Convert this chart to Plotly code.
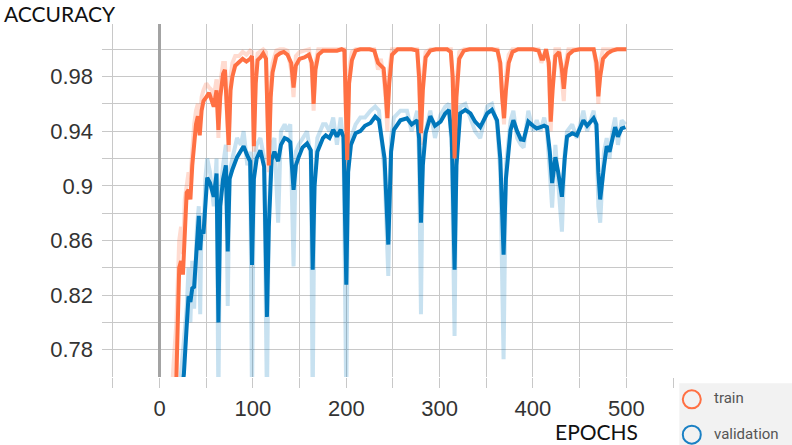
import plotly.graph_objects as go

# ---------------- data ----------------
train_epochs = [0, 10, 15, 18, 21, 23, 25, 27, 29, 31, 33, 35, 37, 39, 41, 43, 45, 47, 50, 53, 56, 58, 61, 63, 65, 68, 70, 72, 74, 76, 78, 81, 85, 89, 93, 97, 99, 101, 103, 105, 108, 111, 114, 117, 119, 121, 125, 129, 133, 137, 141, 143.5, 146, 150, 155, 160, 163, 165, 167, 170, 175, 180, 185, 190, 195, 198, 201, 203, 206, 210, 215, 220, 225, 230, 234, 237, 240, 242, 244, 246, 249, 255, 262, 270, 276, 278, 280, 282, 285, 290, 296, 302, 308, 312, 314, 316, 318, 321, 326, 332, 340, 348, 356, 362, 365, 367, 369, 371, 374, 378, 384, 392, 400, 406, 409, 411, 414, 417, 419, 421, 424, 428, 431, 433, 435, 438, 443, 450, 458, 465, 468, 470, 472, 475, 480, 485, 490, 495, 500]
train_smooth = [0.55, 0.70, 0.745, 0.76, 0.84, 0.845, 0.835, 0.875, 0.895, 0.897, 0.89, 0.915, 0.93, 0.945, 0.951, 0.937, 0.955, 0.962, 0.965, 0.968, 0.962, 0.958, 0.970, 0.941, 0.965, 0.982, 0.985, 0.96, 0.930, 0.97, 0.980, 0.988, 0.991, 0.993, 0.991, 0.993, 0.995, 0.929, 0.975, 0.992, 0.994, 0.997, 0.993, 0.915, 0.965, 0.983, 0.995, 0.997, 0.998, 0.996, 0.99, 0.972, 0.988, 0.993, 0.994, 0.996, 0.99, 0.960, 0.985, 0.996, 0.999, 0.999, 0.9995, 0.999, 1.0, 0.999, 0.919, 0.975, 0.992, 0.999, 1.0, 1.0, 1.0, 0.999, 0.99, 0.988, 0.986, 0.97, 0.9495, 0.975, 0.996, 1.0, 1.0, 1.0, 0.999, 0.98, 0.9385, 0.97, 0.994, 0.999, 1.0, 1.0, 1.0, 0.998, 0.98, 0.920, 0.965, 0.993, 0.999, 1.0, 1.0, 1.0, 1.0, 0.999, 0.99, 0.965, 0.9495, 0.97, 0.99, 0.998, 1.0, 1.0, 1.0, 0.999, 0.993, 0.993, 1.0, 0.99, 0.947, 0.97, 0.995, 0.998, 0.985, 0.971, 0.985, 0.996, 0.999, 1.0, 1.0, 1.0, 0.99, 0.9655, 0.98, 0.993, 0.997, 0.999, 1.0, 1.0, 1.0]
train_raw = [0.55, 0.71, 0.77, 0.80, 0.86, 0.87, 0.85, 0.89, 0.90, 0.91, 0.905, 0.93, 0.945, 0.955, 0.96, 0.945, 0.965, 0.97, 0.975, 0.972, 0.97, 0.965, 0.978, 0.935, 0.975, 0.99, 0.99, 0.955, 0.925, 0.98, 0.99, 0.995, 0.995, 0.998, 0.996, 0.999, 0.998, 0.925, 0.985, 0.997, 0.999, 1.0, 0.998, 0.91, 0.975, 0.99, 0.999, 1.0, 1.0, 0.999, 0.985, 0.965, 0.995, 0.998, 0.999, 1.0, 0.985, 0.955, 0.99, 1.0, 1.0, 1.0, 1.0, 1.0, 1.0, 1.0, 0.91, 0.985, 0.998, 1.0, 1.0, 1.0, 1.0, 1.0, 0.985, 0.993, 0.98, 0.965, 0.94, 0.985, 1.0, 1.0, 1.0, 1.0, 1.0, 0.975, 0.93, 0.98, 0.998, 1.0, 1.0, 1.0, 1.0, 1.0, 0.975, 0.915, 0.975, 0.998, 1.0, 1.0, 1.0, 1.0, 1.0, 1.0, 0.985, 0.96, 0.945, 0.98, 0.996, 1.0, 1.0, 1.0, 1.0, 1.0, 0.99, 0.995, 1.0, 0.985, 0.94, 0.975, 1.0, 1.0, 0.98, 0.962, 0.99, 1.0, 1.0, 1.0, 1.0, 1.0, 0.985, 0.96, 0.99, 1.0, 1.0, 1.0, 1.0, 1.0, 1.0]

val_epochs = [0, 10, 20, 24, 26, 29, 31, 33, 35, 37, 40, 42, 43.5, 45, 47, 49, 51, 54, 58, 61, 63, 65, 68, 71, 73, 75, 78, 83, 87, 90, 94, 97, 99, 101, 104, 108, 112, 115, 117, 120, 123, 127, 130, 134, 137, 140, 143.5, 146, 149, 153, 158, 162, 164, 166, 169, 172, 175, 178, 182, 186, 190, 194, 197, 200, 202, 205, 210, 215, 220, 226, 231, 235, 238, 241, 245, 248, 251, 258, 265, 270, 276, 278, 280, 282, 285, 290, 295, 301, 306, 310, 313, 316, 318, 322, 327.5, 333, 338, 343.5, 351, 356, 361.5, 365, 368.5, 371, 376, 379, 383, 387, 390, 395, 400, 404, 408, 412, 415, 418, 420.5, 424, 427, 431, 434, 436.5, 442, 447, 454, 458, 465, 468, 470, 472, 476, 479, 482, 485, 488, 491, 495, 499]
val_smooth = [0.50, 0.62, 0.72, 0.75, 0.762, 0.797, 0.819, 0.815, 0.825, 0.826, 0.86, 0.878, 0.853, 0.868, 0.865, 0.89, 0.906, 0.902, 0.892, 0.909, 0.80, 0.885, 0.905, 0.915, 0.852, 0.905, 0.912, 0.921, 0.925, 0.929, 0.922, 0.918, 0.842, 0.905, 0.92, 0.926, 0.914, 0.804, 0.87, 0.919, 0.925, 0.918, 0.93, 0.935, 0.934, 0.932, 0.897, 0.915, 0.921, 0.928, 0.931, 0.926, 0.8385, 0.90, 0.925, 0.931, 0.935, 0.937, 0.935, 0.941, 0.936, 0.941, 0.936, 0.8275, 0.91, 0.93, 0.9385, 0.94, 0.944, 0.946, 0.9507, 0.948, 0.936, 0.92, 0.857, 0.925, 0.941, 0.948, 0.9495, 0.945, 0.948, 0.935, 0.873, 0.915, 0.9385, 0.951, 0.944, 0.947, 0.953, 0.9556, 0.935, 0.8385, 0.915, 0.953, 0.9556, 0.953, 0.947, 0.943, 0.953, 0.9556, 0.948, 0.92, 0.8495, 0.905, 0.941, 0.948, 0.94, 0.934, 0.9336, 0.947, 0.944, 0.942, 0.943, 0.944, 0.943, 0.925, 0.902, 0.921, 0.91, 0.892, 0.92, 0.936, 0.9385, 0.937, 0.948, 0.944, 0.9495, 0.945, 0.91, 0.89, 0.914, 0.929, 0.925, 0.9336, 0.943, 0.936, 0.942, 0.943]
val_raw = [0.50, 0.64, 0.74, 0.77, 0.78, 0.81, 0.84, 0.80, 0.845, 0.81, 0.87, 0.885, 0.806, 0.88, 0.86, 0.905, 0.92, 0.91, 0.885, 0.92, 0.74, 0.895, 0.915, 0.93, 0.812, 0.91, 0.92, 0.935, 0.93, 0.94, 0.915, 0.925, 0.74, 0.915, 0.93, 0.935, 0.92, 0.74, 0.88, 0.93, 0.935, 0.873, 0.94, 0.945, 0.94, 0.945, 0.841, 0.925, 0.93, 0.935, 0.94, 0.92, 0.74, 0.91, 0.935, 0.94, 0.945, 0.945, 0.94, 0.95, 0.93, 0.95, 0.93, 0.74, 0.92, 0.935, 0.945, 0.95, 0.95, 0.955, 0.958, 0.955, 0.93, 0.91, 0.834, 0.935, 0.95, 0.955, 0.955, 0.94, 0.955, 0.92, 0.806, 0.925, 0.94, 0.955, 0.935, 0.952, 0.958, 0.96, 0.925, 0.79, 0.925, 0.958, 0.96, 0.95, 0.94, 0.935, 0.958, 0.96, 0.945, 0.91, 0.773, 0.915, 0.948, 0.955, 0.935, 0.93, 0.928, 0.955, 0.94, 0.948, 0.94, 0.95, 0.94, 0.91, 0.884, 0.93, 0.905, 0.8665, 0.925, 0.94, 0.945, 0.935, 0.955, 0.94, 0.955, 0.94, 0.885, 0.873, 0.925, 0.935, 0.92, 0.94, 0.95, 0.93, 0.948, 0.945]

x_tickvals = [-50, 0, 50, 100, 150, 200, 250, 300, 350, 400, 450, 500, 550]
x_ticktext = ["", "0", "", "100", "", "200", "", "300", "", "400", "", "500", ""]
y_tickvals = [0.76, 0.78, 0.80, 0.82, 0.84, 0.86, 0.88, 0.90, 0.92, 0.94, 0.96, 0.98, 1.00]
y_ticktext = ["", "0.78", "", "0.82", "", "0.86", "", "0.9", "", "0.94", "", "0.98", ""]

series_names = ["train", "validation"]

# ---------------- style ----------------
W, H = 792, 445
L, R, T, B = 101.7, 119.3, 24, 68.3
ORANGE = "#ff7043"
BLUE = "#0077bb"
ORANGE_RAW = "rgba(255,112,67,0.25)"
BLUE_RAW = "rgba(0,119,187,0.22)"
GRID = "#c8c8c8"


def px_x(px):
    return (px - L) / (W - L - R)


def px_y(py):
    return (H - B - py) / (H - T - B)


fig = go.Figure()
fig.add_trace(go.Scatter(x=val_epochs, y=val_raw, mode="lines",
                         line=dict(color=BLUE_RAW, width=4), showlegend=False, hoverinfo="skip"))
fig.add_trace(go.Scatter(x=train_epochs, y=train_raw, mode="lines",
                         line=dict(color=ORANGE_RAW, width=4), showlegend=False, hoverinfo="skip"))
fig.add_trace(go.Scatter(x=val_epochs, y=val_smooth, mode="lines", name=series_names[1],
                         line=dict(color=BLUE, width=4), showlegend=False))
fig.add_trace(go.Scatter(x=train_epochs, y=train_smooth, mode="lines", name=series_names[0],
                         line=dict(color=ORANGE, width=4), showlegend=False))

tick_font = dict(family="Liberation Sans, Arial, sans-serif", size=22, color="#333333")

fig.update_layout(
    width=W, height=H,
    margin=dict(l=L, r=R, t=T, b=B, pad=0),
    paper_bgcolor="white", plot_bgcolor="white",
    showlegend=False,
    xaxis=dict(range=[-61.7, 550], tickvals=x_tickvals, ticktext=x_ticktext,
               showgrid=True, gridcolor=GRID, gridwidth=1.3,
               ticks="outside", ticklen=10, tickcolor=GRID, tickwidth=1.3,
               zeroline=True, zerolinecolor="#a3a3a3", zerolinewidth=2.6,
               showline=False, tickfont=tick_font, ticklabelstandoff=2),
    yaxis=dict(range=[0.76, 1.0185], tickvals=y_tickvals, ticktext=y_ticktext,
               showgrid=True, gridcolor=GRID, gridwidth=1.3,
               ticks="", zeroline=False, showline=False,
               tickfont=tick_font, ticklabelstandoff=8),
)

shapes = [
    dict(type="rect", xref="paper", yref="paper", x0=px_x(679), x1=px_x(792),
         y0=px_y(445), y1=px_y(383), fillcolor="#f2f2f2", line=dict(width=0), layer="below"),
    dict(type="circle", xref="paper", yref="paper", x0=px_x(682.5), x1=px_x(700.5),
         y0=px_y(408), y1=px_y(390), line=dict(color=ORANGE, width=2)),
    dict(type="circle", xref="paper", yref="paper", x0=px_x(682.5), x1=px_x(700.5),
         y0=px_y(443.3), y1=px_y(425.3), line=dict(color="#1a80c4", width=2)),
]
fig.update_layout(shapes=shapes)

label_font = dict(family="Lato, Open Sans, sans-serif", size=21, color="#111111")
legend_font = dict(family="Roboto, sans-serif", size=15, color="#555555")
fig.add_annotation(text="ACCURACY", xref="paper", yref="paper", x=px_x(2), y=px_y(13.5),
                   xanchor="left", yanchor="middle", showarrow=False, font=label_font)
fig.add_annotation(text="EPOCHS", xref="paper", yref="paper", x=px_x(596.5), y=px_y(431.5),
                   xanchor="center", yanchor="middle", showarrow=False, font=label_font,
                   borderpad=0)
fig.add_annotation(text=series_names[0], xref="paper", yref="paper", x=px_x(712), y=px_y(398),
                   xanchor="left", yanchor="middle", showarrow=False, font=legend_font)
fig.add_annotation(text=series_names[1], xref="paper", yref="paper", x=px_x(712), y=px_y(433.5),
                   xanchor="left", yanchor="middle", showarrow=False, font=legend_font)

fig.write_html("out.html")
